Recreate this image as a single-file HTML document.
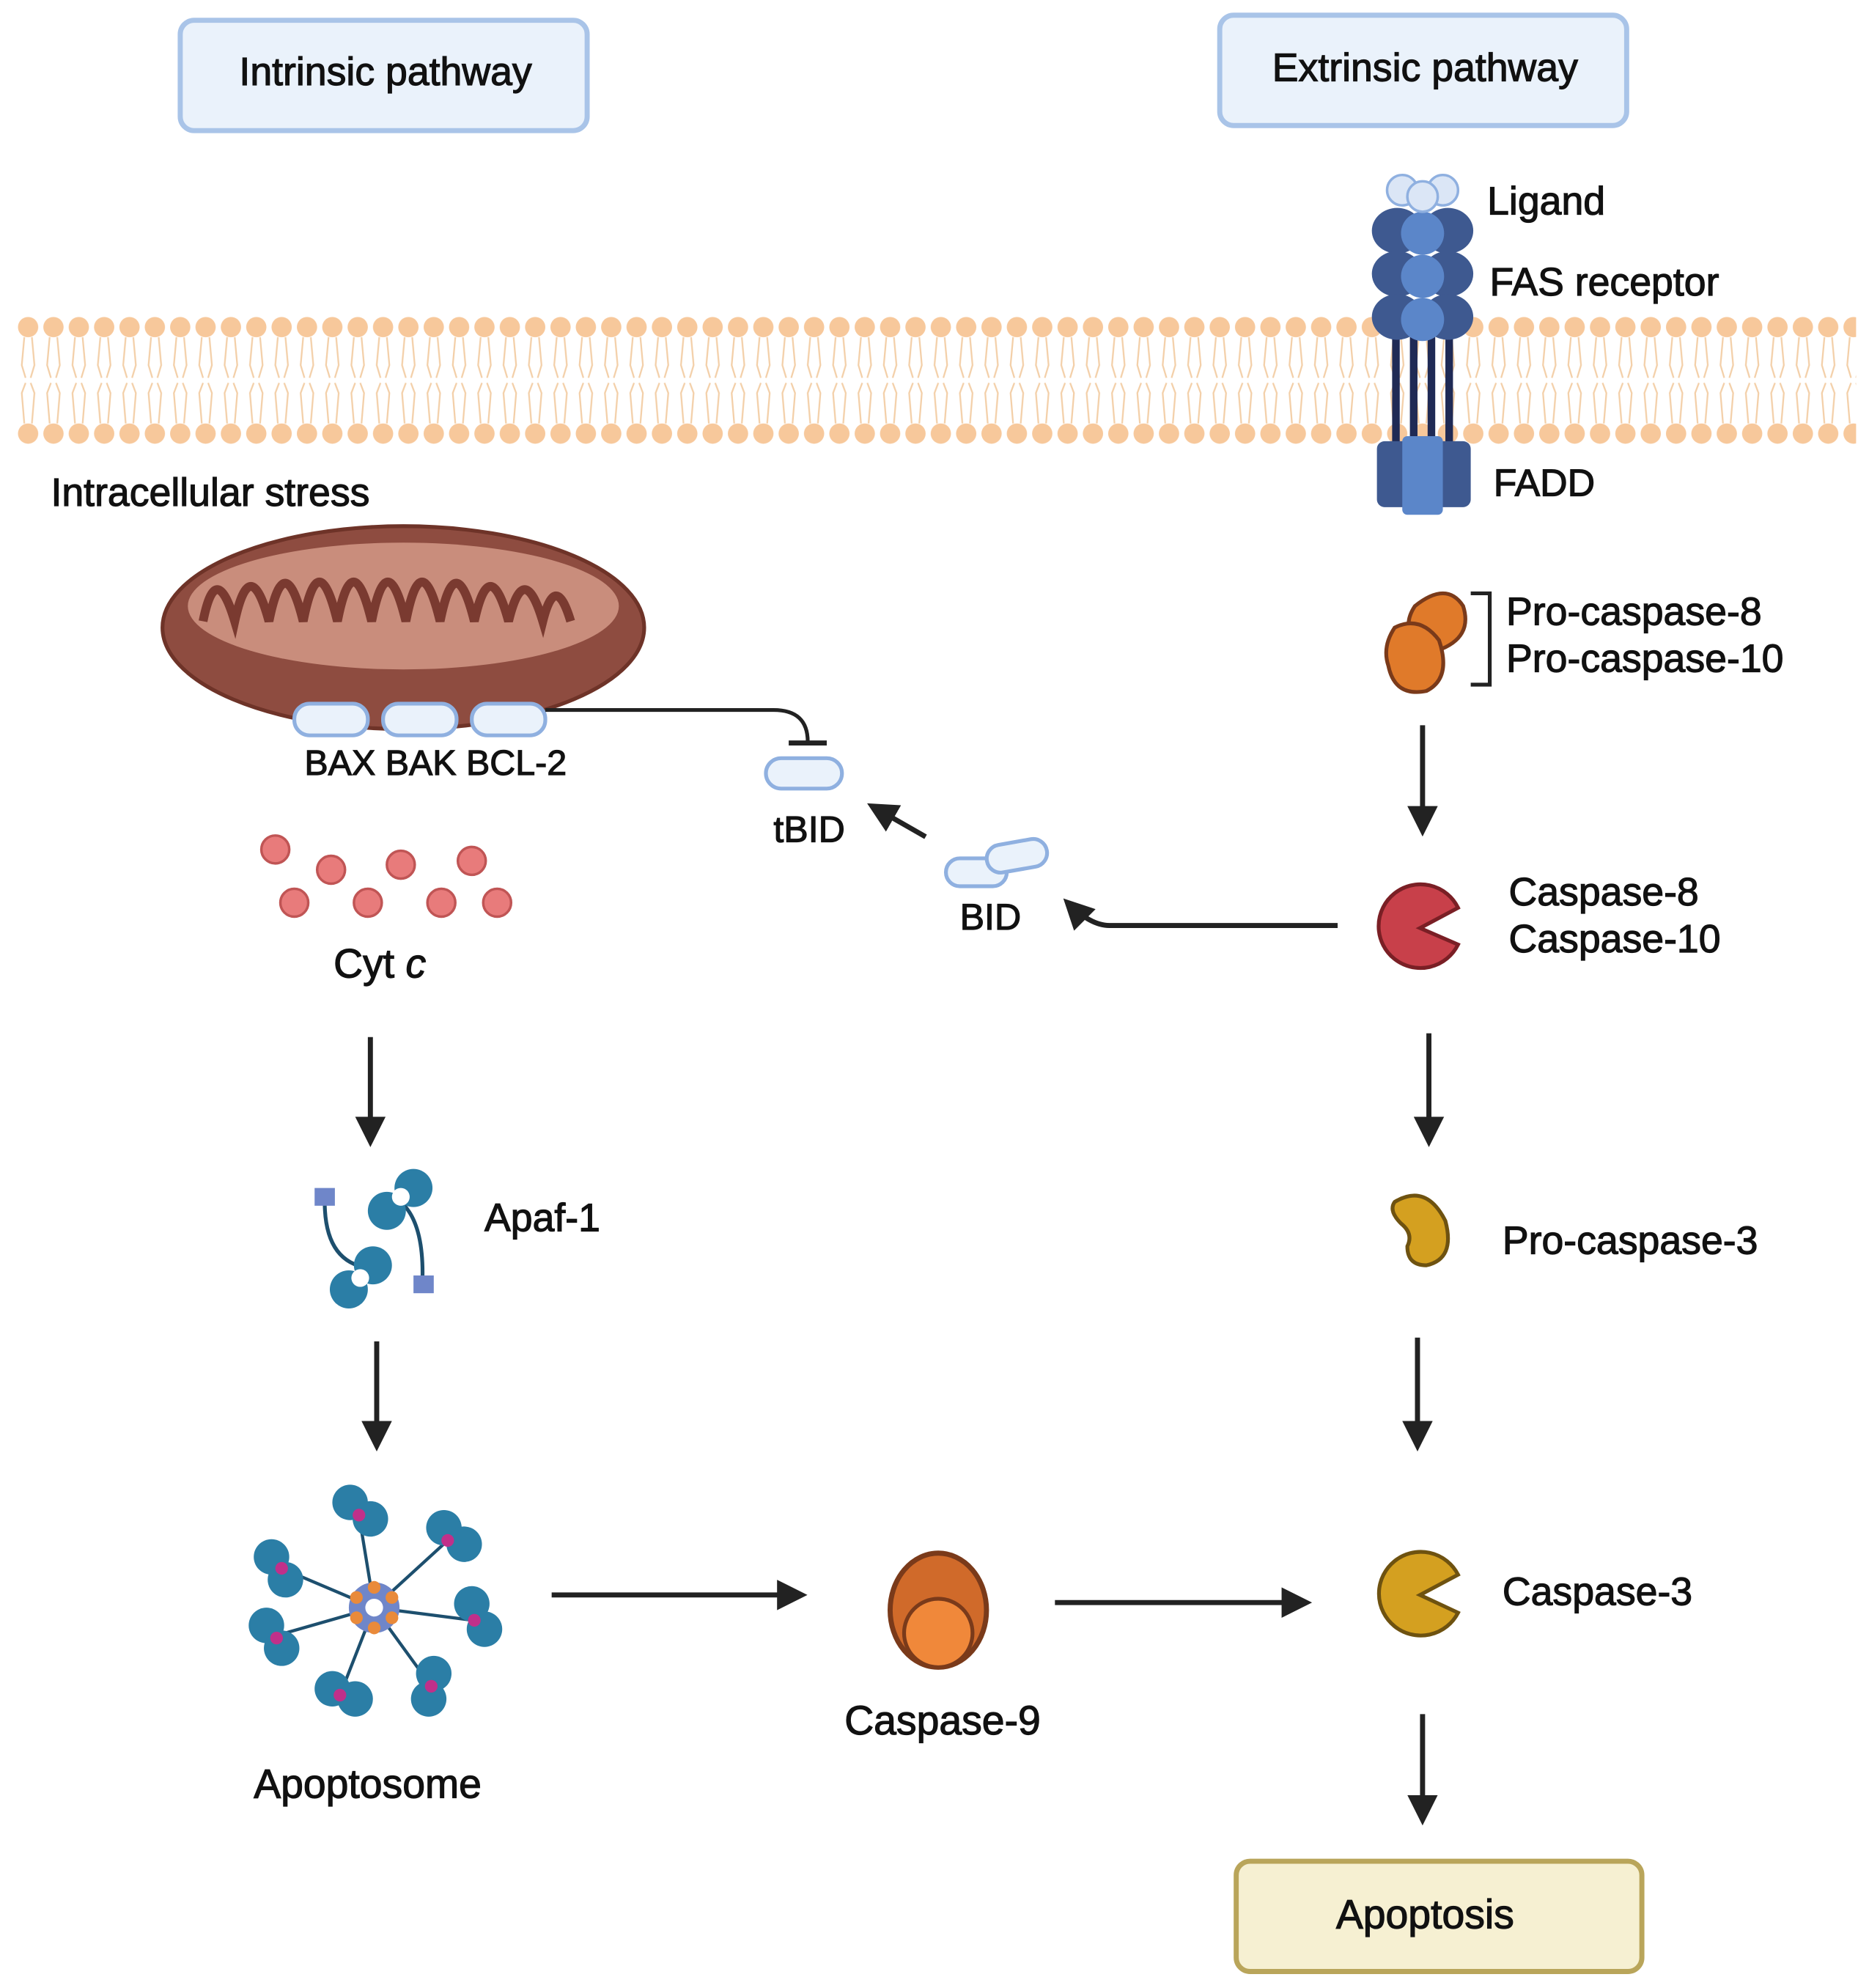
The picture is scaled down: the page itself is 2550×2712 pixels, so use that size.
<!DOCTYPE html>
<html><head><meta charset="utf-8"><style>
html,body{margin:0;padding:0;background:#fff;}
svg{display:block;}
text{font-family:"Liberation Sans",Arial,sans-serif;fill:#111;stroke:#111;stroke-width:0.7;}
</style></head><body>
<svg width="2550" height="2712" viewBox="0 0 1474 1568" xmlns="http://www.w3.org/2000/svg">
<defs>
<pattern id="mem" x="12" y="248" width="20" height="106" patternUnits="userSpaceOnUse">
<circle cx="10" cy="10" r="8" fill="#f7c89b"/>
<circle cx="10" cy="94" r="8" fill="#f7c89b"/>
<path d="M7 18 L5 40 L8 50 M13 18 L15 40 L12 50 M7 86 L5 62 L8 54 M13 86 L15 62 L12 54" stroke="#f3cfa8" stroke-width="1.3" fill="none"/>
</pattern>
<marker id="ah" viewBox="0 0 10 10" refX="8" refY="5" markerWidth="6" markerHeight="6" orient="auto">
<path d="M0,0 L10,5 L0,10 z" fill="#222"/>
</marker>
</defs>

<rect x="12" y="248" width="1452" height="106" fill="url(#mem)"/>

<rect x="142" y="16" width="321" height="87" rx="11" fill="#eaf2fb" stroke="#a9c4e8" stroke-width="4"/>
<text x="304" y="67" font-size="31" text-anchor="middle">Intrinsic pathway</text>
<rect x="962" y="12" width="321" height="87" rx="11" fill="#eaf2fb" stroke="#a9c4e8" stroke-width="4"/>
<text x="1124" y="64" font-size="31" text-anchor="middle">Extrinsic pathway</text>

<g>
<rect x="1112" y="265" width="6" height="85" fill="#1f2a55"/>
<rect x="1126" y="265" width="6" height="85" fill="#1f2a55"/>
<rect x="1098" y="265" width="6" height="85" fill="#1f2a55"/>
<rect x="1140" y="265" width="6" height="85" fill="#1f2a55"/>
<g fill="#3e5990">
<ellipse cx="1102" cy="182" rx="20" ry="18"/><ellipse cx="1142" cy="182" rx="20" ry="18"/>
<ellipse cx="1102" cy="216" rx="20" ry="18"/><ellipse cx="1142" cy="216" rx="20" ry="18"/>
<ellipse cx="1102" cy="250" rx="20" ry="18"/><ellipse cx="1142" cy="250" rx="20" ry="18"/>
</g>
<g fill="#5b86c9"><circle cx="1122" cy="184" r="17"/><circle cx="1122" cy="218" r="17"/><circle cx="1122" cy="252" r="17"/></g>
<g fill="#dbe6f6" stroke="#8fb0e0" stroke-width="2"><circle cx="1106" cy="150" r="12"/><circle cx="1138" cy="150" r="12"/><circle cx="1122" cy="155" r="12"/></g>
<rect x="1086" y="348" width="74" height="52" rx="6" fill="#3e5990"/>
<rect x="1106" y="344" width="32" height="62" rx="4" fill="#5b86c9"/>
</g>
<text x="1173" y="169" font-size="31">Ligand</text>
<text x="1175" y="233" font-size="31">FAS receptor</text>
<text x="1178" y="391" font-size="30">FADD</text>

<text x="40" y="399" font-size="31">Intracellular stress</text>

<ellipse cx="318" cy="495" rx="190" ry="80" fill="#8e4c40" stroke="#6e3328" stroke-width="3"/>
<ellipse cx="318" cy="478" rx="170" ry="50" fill="#c98d7c"/>
<path d="M160 490 q10 -50 25 0 q12 -55 27 0 q12 -60 27 0 q12 -62 27 0 q12 -62 27 0 q12 -62 27 0 q12 -62 27 0 q12 -60 27 0 q12 -55 27 0 q12 -50 27 0 q10 -40 22 0" fill="none" stroke="#7a3a30" stroke-width="7"/>
<g fill="#eaf2fb" stroke="#8fb0e0" stroke-width="3">
<rect x="232" y="555" width="58" height="25" rx="12"/><rect x="302" y="555" width="58" height="25" rx="12"/><rect x="372" y="555" width="58" height="25" rx="12"/>
</g>
<text x="240" y="611" font-size="28">BAX BAK BCL-2</text>

<path d="M430 560 L610 560 Q637 560 637 585" fill="none" stroke="#222" stroke-width="3"/>
<line x1="622" y1="586" x2="652" y2="586" stroke="#222" stroke-width="4"/>
<rect x="604" y="598" width="60" height="24" rx="12" fill="#eaf2fb" stroke="#8fb0e0" stroke-width="3"/>
<text x="610" y="664" font-size="29">tBID</text>
<line x1="730" y1="660" x2="688" y2="636" stroke="#222" stroke-width="4" marker-end="url(#ah)"/>
<rect x="746" y="677" width="48" height="22" rx="11" fill="#eaf2fb" stroke="#8fb0e0" stroke-width="3"/>
<rect x="778" y="664" width="48" height="22" rx="11" fill="#eaf2fb" stroke="#8fb0e0" stroke-width="3" transform="rotate(-10 802 675)"/>
<text x="757" y="733" font-size="29">BID</text>
<path d="M1055 730 L875 730 Q860 730 842 712" fill="none" stroke="#222" stroke-width="4" marker-end="url(#ah)"/>

<g fill="#e87b7b" stroke="#c05555" stroke-width="2">
<circle cx="217" cy="670" r="11"/><circle cx="261" cy="686" r="11"/><circle cx="316" cy="682" r="11"/><circle cx="372" cy="679" r="11"/>
<circle cx="232" cy="712" r="11"/><circle cx="290" cy="712" r="11"/><circle cx="348" cy="712" r="11"/><circle cx="392" cy="712" r="11"/>
</g>
<text x="263" y="771" font-size="32">Cyt <tspan font-style="italic">c</tspan></text>

<line x1="292" y1="818" x2="292" y2="900" stroke="#222" stroke-width="4" marker-end="url(#ah)"/>
<g>
<path d="M256 945 Q255 995 290 1000 M333 1012 Q335 960 312 945" fill="none" stroke="#1d4f6e" stroke-width="3"/>
<rect x="248" y="937" width="16" height="14" fill="#6f86c9"/><rect x="326" y="1006" width="16" height="14" fill="#6f86c9"/>
<g fill="#2b7ea6"><circle cx="305" cy="955" r="15"/><circle cx="326" cy="937" r="15"/><circle cx="294" cy="998" r="15"/><circle cx="275" cy="1017" r="15"/></g>
<circle cx="316" cy="944" r="7" fill="#fff"/><circle cx="284" cy="1008" r="7" fill="#fff"/>
</g>
<text x="382" y="971" font-size="31">Apaf-1</text>

<line x1="297" y1="1058" x2="297" y2="1140" stroke="#222" stroke-width="4" marker-end="url(#ah)"/>
<g>
<g stroke="#1d4f6e" stroke-width="2.5">
<line x1="295" y1="1268" x2="283" y2="1195"/><line x1="295" y1="1268" x2="353" y2="1215"/><line x1="295" y1="1268" x2="373" y2="1278"/>
<line x1="295" y1="1268" x2="340" y2="1330"/><line x1="295" y1="1268" x2="268" y2="1337"/><line x1="295" y1="1268" x2="218" y2="1290"/><line x1="295" y1="1268" x2="222" y2="1237"/>
</g>
<g fill="#2b7ea6">
<circle cx="276" cy="1185" r="14"/><circle cx="292" cy="1198" r="14"/>
<circle cx="350" cy="1205" r="14"/><circle cx="366" cy="1218" r="14"/>
<circle cx="372" cy="1265" r="14"/><circle cx="382" cy="1285" r="14"/>
<circle cx="342" cy="1320" r="14"/><circle cx="338" cy="1340" r="14"/>
<circle cx="262" cy="1332" r="14"/><circle cx="280" cy="1340" r="14"/>
<circle cx="210" cy="1282" r="14"/><circle cx="222" cy="1300" r="14"/>
<circle cx="214" cy="1228" r="14"/><circle cx="225" cy="1246" r="14"/>
</g>
<g fill="#c0308a"><circle cx="283" cy="1195" r="5"/><circle cx="353" cy="1215" r="5"/><circle cx="374" cy="1278" r="5"/><circle cx="340" cy="1330" r="5"/><circle cx="268" cy="1337" r="5"/><circle cx="218" cy="1292" r="5"/><circle cx="222" cy="1237" r="5"/></g>
<circle cx="295" cy="1268" r="20" fill="#6f86c9"/>
<g fill="#e98a3a"><circle cx="295" cy="1252" r="5"/><circle cx="309" cy="1260" r="5"/><circle cx="309" cy="1276" r="5"/><circle cx="295" cy="1284" r="5"/><circle cx="281" cy="1276" r="5"/><circle cx="281" cy="1260" r="5"/></g>
<circle cx="295" cy="1268" r="7" fill="#fff"/>
</g>
<text x="200" y="1418" font-size="32">Apoptosome</text>

<line x1="435" y1="1258" x2="632" y2="1258" stroke="#222" stroke-width="4" marker-end="url(#ah)"/>
<ellipse cx="740" cy="1270" rx="38" ry="45" fill="#d06a2a" stroke="#7a3a1a" stroke-width="4"/>
<circle cx="740" cy="1288" r="27" fill="#f0883a" stroke="#7a3a1a" stroke-width="3"/>
<text x="666" y="1368" font-size="32">Caspase-9</text>
<line x1="832" y1="1264" x2="1030" y2="1264" stroke="#222" stroke-width="4" marker-end="url(#ah)"/>

<path d="M1116 478 q25 -20 38 0 q8 25 -20 35 q-15 5 -18 -8 q-10 -12 0 -27z" fill="#e07a2a" stroke="#7a3a1a" stroke-width="3"/>
<path d="M1100 495 q20 -10 35 10 q10 30 -10 40 q-25 5 -30 -20 q-5 -15 5 -30z" fill="#e07a2a" stroke="#7a3a1a" stroke-width="3"/>
<path d="M1160 468 L1175 468 L1175 540 L1160 540" fill="none" stroke="#222" stroke-width="3"/>
<text x="1188" y="493" font-size="31">Pro-caspase-8</text>
<text x="1188" y="530" font-size="31">Pro-caspase-10</text>
<line x1="1122" y1="572" x2="1122" y2="655" stroke="#222" stroke-width="4" marker-end="url(#ah)"/>
<path d="M1150 716 A33 33 0 1 0 1150 745 L1120 732 Z" fill="#c8404a" stroke="#7a1f25" stroke-width="3"/>
<text x="1190" y="714" font-size="31">Caspase-8</text>
<text x="1190" y="751" font-size="31">Caspase-10</text>
<line x1="1127" y1="815" x2="1127" y2="900" stroke="#222" stroke-width="4" marker-end="url(#ah)"/>
<path d="M1100 948 q25 -15 40 15 q8 30 -15 35 q-15 0 -15 -15 q5 -10 -5 -18 q-10 -10 -5 -17z" fill="#d4a020" stroke="#6e5210" stroke-width="3"/>
<text x="1185" y="989" font-size="31">Pro-caspase-3</text>
<line x1="1118" y1="1055" x2="1118" y2="1140" stroke="#222" stroke-width="4" marker-end="url(#ah)"/>
<path d="M1150 1242 A33 33 0 1 0 1150 1272 L1120 1258 Z" fill="#d4a020" stroke="#6e5210" stroke-width="3"/>
<text x="1185" y="1266" font-size="31">Caspase-3</text>
<line x1="1122" y1="1352" x2="1122" y2="1435" stroke="#222" stroke-width="4" marker-end="url(#ah)"/>

<rect x="975" y="1468" width="320" height="87" rx="11" fill="#f6f0d2" stroke="#b9a55a" stroke-width="4"/>
<text x="1124" y="1521" font-size="32" text-anchor="middle">Apoptosis</text>
</svg>
</body></html>
